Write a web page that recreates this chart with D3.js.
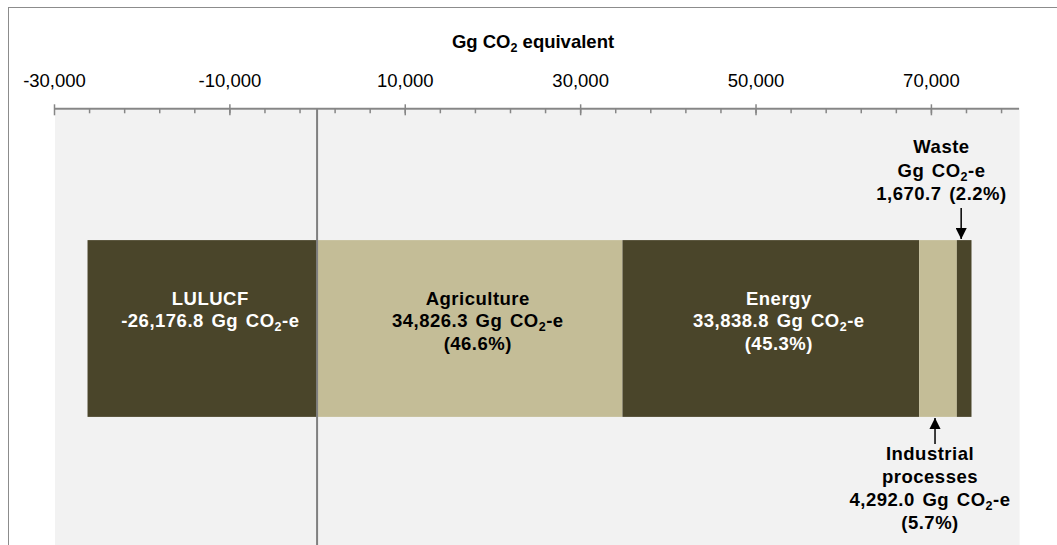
<!DOCTYPE html>
<html>
<head>
<meta charset="utf-8">
<script src="https://cdn.jsdelivr.net/npm/d3@7"></script>
<style>
  body { margin: 0; background: #ffffff; }
  svg { display: block; font-family: Arial, "Liberation Sans", sans-serif; }
</style>
</head>
<body>
<div id="chart"></div>
<script>
// Emissions by sector (Gg CO2-e)
const categories = ["LULUCF", "Agriculture", "Energy", "Industrial processes", "Waste"];
const values = [-26176.8, 34826.3, 33838.8, 4292.0, 1670.7];
const shares = [null, 46.6, 45.3, 5.7, 2.2];

// Axis ticks
const majorTicks = [-30000, -10000, 10000, 30000, 50000, 70000];
const minorTicks = d3.range(-26000, 80000, 4000);
const axisTitle = "Gg CO₂ equivalent";
const unit = "Gg CO₂-e";

// Label text for each sector
const labelLines = [
  ["LULUCF", "-26,176.8 " + unit],
  ["Agriculture", "34,826.3 " + unit, "(46.6%)"],
  ["Energy", "33,838.8 " + unit, "(45.3%)"],
  ["Industrial", "processes", "4,292.0 " + unit, "(5.7%)"],
  ["Waste", unit, "1,670.7 (2.2%)"]
];

// Layout
const w = 1057;
const h = 545;
const plotLeft = 54;
const plotRight = 1018.6;
const plotTop = 110;
const plotBottom = 547;
const fs = 18.5;
const lineH = 22.5;

// Colours
const darkOlive = "#4a452a";
const tan = "#c4bd97";
const plotGray = "#f2f2f2";
const axisGray = "#868686";
const colors = [darkOlive, tan, darkOlive, tan, darkOlive];
const textColors = ["#ffffff", "#000000", "#ffffff", "#000000", "#000000"];

const row = {};
categories.forEach((c, i) => row[c] = values[i]);

const series = d3.stack()
  .keys(categories)
  .offset(d3.stackOffsetDiverging)([row]);

const xScale = d3.scaleLinear()
  .domain([-30000, 80000])
  .range([plotLeft, plotRight]);

const yScale = d3.scaleBand()
  .domain(["total"])
  .range([plotTop, plotBottom])
  .paddingInner(0)
  .paddingOuter(0.736);

const svg = d3.select("#chart")
  .append("svg")
  .attr("width", w)
  .attr("height", h);

// Outer frame
svg.append("rect")
  .attr("x", 8.5)
  .attr("y", 7.5)
  .attr("width", 1200)
  .attr("height", 700)
  .attr("fill", "none")
  .attr("stroke", "#8c8c8c")
  .attr("stroke-width", 1);

// Plot area background
svg.append("rect")
  .attr("x", plotLeft + 1)
  .attr("y", plotTop)
  .attr("width", plotRight - plotLeft)
  .attr("height", plotBottom - plotTop)
  .attr("fill", plotGray);

// Arrow marker
svg.append("defs")
  .append("marker")
  .attr("id", "arrow")
  .attr("viewBox", "0 0 10 10")
  .attr("refX", 10)
  .attr("refY", 5)
  .attr("markerWidth", 7.5)
  .attr("markerHeight", 7.5)
  .attr("markerUnits", "strokeWidth")
  .attr("orient", "auto")
  .append("path")
  .attr("d", "M0,0 L10,5 L0,10 Z")
  .attr("fill", "#000");

// Bars
const yTop = yScale("total");
const bw = yScale.bandwidth();
const yMid = yTop + bw / 2;

svg.selectAll("rect.bar")
  .data(series)
  .enter()
  .append("rect")
  .attr("class", "bar")
  .attr("x", d => xScale(d[0][0]))
  .attr("y", yTop)
  .attr("width", d => xScale(d[0][1]) - xScale(d[0][0]))
  .attr("height", bw)
  .attr("fill", (d, i) => colors[i]);

// Zero line
svg.append("line")
  .attr("x1", xScale(0))
  .attr("x2", xScale(0))
  .attr("y1", plotTop - 2)
  .attr("y2", h)
  .attr("stroke", "#808080")
  .attr("stroke-width", 2);

// Axis: labels + line
const axisY = 108.3;
const commaFmt = d3.format(",");

const labelAxis = d3.axisTop(xScale)
  .tickValues(majorTicks)
  .tickSize(0)
  .tickPadding(21)
  .tickFormat(d => commaFmt(d).replace("−", "-"));

const gAxis = svg.append("g")
  .attr("transform", "translate(0," + axisY + ")")
  .call(labelAxis);

gAxis.select(".domain")
  .attr("stroke", axisGray)
  .attr("stroke-width", 2);

gAxis.selectAll("text")
  .attr("font-size", fs)
  .attr("font-family", "Arial, 'Liberation Sans', sans-serif")
  .attr("fill", "#000");

// Major ticks cross the axis line
const majorAxis = d3.axisBottom(xScale)
  .tickValues(majorTicks)
  .tickSize(7)
  .tickFormat("");

const gMajor = svg.append("g")
  .attr("transform", "translate(0," + axisY + ")")
  .call(majorAxis);
gMajor.select(".domain").remove();
gMajor.selectAll("line")
  .attr("y1", -4)
  .attr("stroke", axisGray)
  .attr("stroke-width", 1.5);

// Minor ticks below the axis line
const minorAxis = d3.axisBottom(xScale)
  .tickValues(minorTicks)
  .tickSize(5)
  .tickFormat("");

const gMinor = svg.append("g")
  .attr("transform", "translate(0," + axisY + ")")
  .call(minorAxis);
gMinor.select(".domain").remove();
gMinor.selectAll("line")
  .attr("stroke", axisGray)
  .attr("stroke-width", 1.5);

// Text helper: renders the "2" of CO2 as a subscript
function addLine(g, str, x, y, color, bold) {
  const t = g.append("text")
    .attr("x", x)
    .attr("y", y)
    .attr("text-anchor", "middle")
    .attr("fill", color)
    .attr("font-size", fs)
    .attr("font-weight", bold ? "bold" : "normal");
  str.split("₂").forEach((part, j) => {
    if (j > 0) {
      t.append("tspan")
        .attr("font-size", 12.5)
        .attr("dy", 4)
        .text("2");
    }
    t.append("tspan")
      .attr("dy", j > 0 ? -4 : 0)
      .text(part);
  });
  return t;
}

// Axis title
addLine(svg, axisTitle, 533, 48, "#000", true);

// Labels inside the three big bars
const gLabels = svg.append("g");
series.slice(0, 3).forEach((s, i) => {
  const cx = (xScale(s[0][0]) + xScale(s[0][1])) / 2 + 8;
  labelLines[i].forEach((line, k) => {
    addLine(gLabels, line, cx, yMid - 24 + k * lineH, textColors[i], true)
      .attr("letter-spacing", 0.5)
      .attr("word-spacing", 2);
  });
});

// Industrial processes: arrow from below
const ind = series[3][0];
const indX = (xScale(ind[0]) + xScale(ind[1])) / 2 - 3;
svg.append("line")
  .attr("x1", indX)
  .attr("x2", indX)
  .attr("y1", yTop + bw + 27)
  .attr("y2", yTop + bw + 1)
  .attr("stroke", "#000")
  .attr("stroke-width", 1.5)
  .attr("marker-end", "url(#arrow)");

labelLines[3].forEach((line, k) => {
  addLine(gLabels, line, indX - 5, yTop + bw + 43 + k * 23, "#000", true)
    .attr("letter-spacing", 0.5)
    .attr("word-spacing", 2);
});

// Waste: arrow from above
const wst = series[4][0];
const wstX = (xScale(wst[0]) + xScale(wst[1])) / 2 - 3;
svg.append("line")
  .attr("x1", wstX)
  .attr("x2", wstX)
  .attr("y1", yTop - 32)
  .attr("y2", yTop - 1)
  .attr("stroke", "#000")
  .attr("stroke-width", 1.5)
  .attr("marker-end", "url(#arrow)");

labelLines[4].forEach((line, k) => {
  addLine(gLabels, line, 941.5, yTop - 87 + k * 23.6, "#000", true)
    .attr("letter-spacing", 0.5)
    .attr("word-spacing", 2);
});
</script>
</body>
</html>
